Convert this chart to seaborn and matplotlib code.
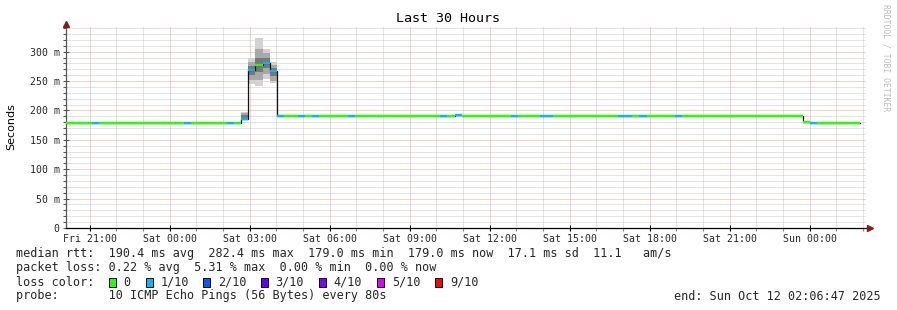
import numpy as np
import pandas as pd
import matplotlib
matplotlib.use("Agg")
import matplotlib.pyplot as plt
from matplotlib.patches import Rectangle
import seaborn as sns

# ---------------- data (hours since Fri 00:00) ----------------
t_edges = [20.113, 21.077, 21.351, 24.538, 24.800, 26.139, 26.402, 26.676, 26.938,
           27.201, 27.489, 27.763, 28.026, 28.289, 28.813, 29.087, 29.338, 29.612,
           30.688, 30.961, 34.138, 34.412, 34.700, 34.963, 36.800, 37.074, 37.888,
           38.387, 40.824, 41.327, 41.612, 41.889, 42.951, 43.213, 47.738, 48.013,
           48.287, 49.887]
median_ms = [179, 179, 179, 179, 179, 179, 179, 185, 269.5,
             277, 281, 267, 190, 190, 190, 190, 190, 190,
             190, 190, 190, 190, 192, 190, 190, 190, 190,
             190, 190, 190, 190, 190, 190, 190, 180, 178.5,
             178.5]
loss_pings = [0, 1, 0, 1, 0, 1, 0, 1, 1,
              0, 1, 1, 1, 0, 1, 0, 1, 0,
              1, 0, 1, 0, 1, 0, 1, 0, 1,
              0, 1, 0, 1, 0, 1, 0, 0, 1,
              0]

# smoke (spread of the 10 pings) during the spike
smoke_edges = [26.676, 26.938, 27.201, 27.489, 27.763, 28.026]
outer_lo = [183, 245, 242, 254, 246]
outer_hi = [197, 290, 324, 305, 282]
mid_lo = [184, 252, 252, 262, 250]
mid_hi = [195, 282, 305, 298, 278]
inner_lo = [185, 260, 265, 272, 258]
inner_hi = [192, 276, 290, 290, 272]

x_ticks = [21, 24, 27, 30, 33, 36, 39, 42, 45, 48]
x_tick_labels = ["Fri 21:00", "Sat 00:00", "Sat 03:00", "Sat 06:00", "Sat 09:00",
                 "Sat 12:00", "Sat 15:00", "Sat 18:00", "Sat 21:00", "Sun 00:00"]
y_ticks = [0, 50, 100, 150, 200, 250, 300]
y_tick_labels = ["0", "50 m", "100 m", "150 m", "200 m", "250 m", "300 m"]

loss_labels = ["0", "1/10", "2/10", "3/10", "4/10", "5/10", "9/10"]
loss_colors = ["#26ff00", "#00b8ff", "#0059ff", "#5e00ff", "#7e00ff", "#dd00ff", "#ff0000"]

t_start, t_end = 20.113, 50.113

# ---------------- figure ----------------
sns.set_theme(style="white")
plt.rcParams["font.family"] = ["DejaVu Sans Mono", "DejaVu Sans"]

W, H = 897, 310
fig = plt.figure(figsize=(W / 100, H / 100), dpi=100, facecolor="white")

def fx(px):
    return px / W

def fy(py):
    return 1 - py / H

ax_left, ax_right, ax_bottom, ax_top = 66, 866, 228, 27
ax = fig.add_axes([fx(ax_left), fy(ax_bottom), (ax_right - ax_left) / W, (ax_bottom - ax_top) / H])
ax.set_facecolor("white")
ymax = 342
ax.set_xlim(t_start, t_end)
ax.set_ylim(0, ymax)

# grid (dotted)
red = "#f0a0a0"
gray = "#c8c8c8"
dot = (0, (1, 1))
for h in range(21, 51):
    if h in x_ticks:
        continue
    ax.axvline(h, color=gray, lw=0.72, ls=dot, zorder=0)
for v in range(10, ymax, 10):
    if v % 50 == 0:
        continue
    ax.axhline(v, color=gray, lw=0.72, ls=dot, zorder=0)
for h in x_ticks:
    ax.axvline(h, color=red, lw=0.72, ls=dot, zorder=0.5)
for v in y_ticks[1:]:
    ax.axhline(v, color=red, lw=0.72, ls=dot, zorder=0.5)

# smoke
smoke_layers = [(outer_lo, outer_hi, "#d2d2d2"), (mid_lo, mid_hi, "#a8a8a8"),
                (inner_lo, inner_hi, "#787878")]
for lo, hi, col in smoke_layers:
    ax.fill_between(smoke_edges, lo + [lo[-1]], hi + [hi[-1]], step="post",
                    color=col, lw=0, zorder=1)

# black step line (median)
df = pd.DataFrame({"t": t_edges, "ms": median_ms + [median_ms[-1]]})
sns.lineplot(data=df, x="t", y="ms", estimator=None, drawstyle="steps-post",
             color="#111111", lw=0.9, ax=ax, zorder=2)

# coloured median segments
seg_colors = [loss_colors[n] for n in loss_pings]
ax.hlines(median_ms, t_edges[:-1], t_edges[1:], colors=seg_colors, lw=1.7, zorder=3)

# axes styling
for s in ["top", "right"]:
    ax.spines[s].set_visible(False)
ax.spines["left"].set_color("#555555")
ax.spines["left"].set_linewidth(0.9)
ax.spines["bottom"].set_color("#000000")
ax.spines["bottom"].set_linewidth(0.9)
ax.spines["bottom"].set_bounds(t_start, t_start + (868 - 66) / 800 * 30)

ax.set_xticks(x_ticks)
ax.set_xticklabels(x_tick_labels, fontsize=7.1, family="DejaVu Sans Mono")
ax.set_xticks(list(range(21, 51)), minor=True)
ax.set_yticks(y_ticks)
ax.set_yticklabels(y_tick_labels, fontsize=7.1, family="DejaVu Sans Mono")
ax.set_yticks(list(range(10, ymax, 10)), minor=True)
ax.tick_params(axis="x", which="major", direction="inout", length=5, width=0.8,
               color="#000000", pad=1.5, bottom=True)
ax.tick_params(axis="x", which="minor", direction="out", length=2, width=0.8,
               color="#e06060", bottom=True)
ax.tick_params(axis="y", which="major", direction="inout", length=4, width=0.8,
               color="#555555", pad=2.6, left=True)
ax.tick_params(axis="y", which="minor", direction="out", length=2, width=0.8,
               color="#555555", left=True)
ax.set_xlabel("")
ax.set_ylabel("")

# arrows
ax.plot([0], [1.0 + 3 / 201], marker="^", ms=4.5, color="#8b1a1a",
        transform=ax.transAxes, clip_on=False, zorder=5)
ax.plot([1.0 + 4 / 800], [0], marker=">", ms=4.5, color="#8b1a1a",
        transform=ax.transAxes, clip_on=False, zorder=5)

# texts
fig.text(fx(448), fy(19), "Last 30 Hours", ha="center", va="center",
         fontsize=9.6, family="DejaVu Sans Mono", color="#000000")
fig.text(fx(11), fy(127), "Seconds", ha="center", va="center", rotation=90,
         fontsize=8, family="DejaVu Sans", color="#000000")
fig.text(fx(886), fy(4), "RRDTOOL / TOBI OETIKER", ha="center", va="top",
         rotation=270, fontsize=5.8, family="DejaVu Sans Mono", color="#bdbdbd")

fs = 8.5
fig.text(fx(16), fy(254),
         "median rtt:  190.4 ms avg  282.4 ms max  179.0 ms min  179.0 ms now  17.1 ms sd  11.1   am/s",
         ha="left", va="center", fontsize=fs, family="DejaVu Sans Mono")
fig.text(fx(16), fy(268),
         "packet loss: 0.22 % avg  5.31 % max  0.00 % min  0.00 % now",
         ha="left", va="center", fontsize=fs, family="DejaVu Sans Mono")
fig.text(fx(16), fy(282), "loss color:", ha="left", va="center", fontsize=fs,
         family="DejaVu Sans Mono")
box_x = [108.7, 145.7, 203.3, 261.0, 319.3, 377.3, 435.3]
for bx, lab, col in zip(box_x, loss_labels, loss_colors):
    fig.patches.append(Rectangle((fx(bx), fy(287)), 7 / W, 9 / H, transform=fig.transFigure,
                                 facecolor=col, edgecolor="#000000", lw=0.7))
    fig.text(fx(bx + 14.5), fy(282), lab, ha="left", va="center", fontsize=fs,
             family="DejaVu Sans Mono")
fig.text(fx(16), fy(296), "probe:       10 ICMP Echo Pings (56 Bytes) every 80s",
         ha="left", va="center", fontsize=fs, family="DejaVu Sans Mono")
fig.text(fx(881), fy(296), "end: Sun Oct 12 02:06:47 2025", ha="right", va="center",
         fontsize=fs, family="DejaVu Sans Mono")

fig.savefig("out.png", dpi=100, facecolor="white")
